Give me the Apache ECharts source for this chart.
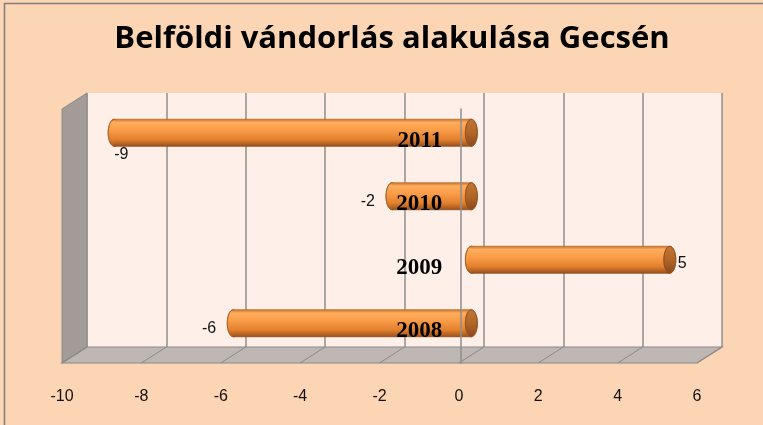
<!DOCTYPE html>
<html><head><meta charset="utf-8">
<script src="https://cdn.jsdelivr.net/npm/echarts@6/dist/echarts.min.js"></script>
<style>html,body{margin:0;padding:0;background:#FCD5B5;overflow:hidden}#c{width:763px;height:425px}</style>
</head><body><div id="c"></div>
<script>
// ---- data ----
const titleText = 'Belföldi vándorlás alakulása Gecsén';
const categories = ['2008', '2009', '2010', '2011'];
const values = [-6, 5, -2, -9];
const xMin = -10, xMax = 6, xInterval = 2;
const xTicks = [-10, -8, -6, -4, -2, 0, 2, 4, 6];

// ---- layout (3D-ish: back wall, bar plane, front plane) ----
const G0 = { left: 87, top: 93, width: 635, height: 254 };   // back wall
const G1 = { left: 74.5, top: 101, width: 635, height: 254 }; // bars
const G2 = { left: 62, top: 109, width: 635, height: 254 };   // front

const chart = echarts.init(document.getElementById('c'), null, { renderer: 'canvas' });

const bodyStops = [
  { offset: 0, color: '#C9782F' },
  { offset: 0.12, color: '#FFAD5E' },
  { offset: 0.4, color: '#FA9D48' },
  { offset: 0.75, color: '#E2802D' },
  { offset: 1, color: '#9A5120' }
];
const capStops = [
  { offset: 0, color: '#C47634' },
  { offset: 0.5, color: '#B06628' },
  { offset: 1, color: '#8A491B' }
];

function renderBar(params, api) {
  const v = api.value(0), c = api.value(1);
  const p0 = api.coord([0, c]);
  const p1 = api.coord([v, c]);
  const band = api.size([0, 1])[1];
  const h = band * 0.425;
  const yc = p0[1];
  const y0 = yc - h / 2;
  const xl = Math.min(p0[0], p1[0]);
  const xr = Math.max(p0[0], p1[0]);
  const rx = 6;
  const bodyGrad = new echarts.graphic.LinearGradient(0, 0, 0, 1, bodyStops);
  const capGrad = new echarts.graphic.LinearGradient(0, 0, 0, 1, capStops);
  const children = [
    { type: 'ellipse', shape: { cx: xl, cy: yc, rx: rx, ry: h / 2 }, style: { fill: bodyGrad, stroke: '#A85C22', lineWidth: 0.8 } },
    { type: 'rect', shape: { x: xl, y: y0, width: xr - xl, height: h }, style: { fill: bodyGrad } },
    { type: 'line', shape: { x1: xl, y1: y0, x2: xr, y2: y0 }, style: { stroke: '#B8692A', lineWidth: 0.8 } },
    { type: 'line', shape: { x1: xl, y1: y0 + h, x2: xr, y2: y0 + h }, style: { stroke: '#8A4A1C', lineWidth: 0.8 } },
    { type: 'ellipse', shape: { cx: xr, cy: yc, rx: rx, ry: h / 2 }, style: { fill: capGrad, stroke: '#95501E', lineWidth: 0.8 } }
  ];
  // value label
  let lx, ly, align, va;
  if (v < 0 && v <= xMin + 1) { lx = p1[0]; ly = y0 + h; align = 'left'; va = 'top'; }
  else if (v < 0) { lx = p1[0] - 17; ly = yc + 5; align = 'right'; va = 'middle'; }
  else { lx = p1[0] + 8; ly = yc + 4; align = 'left'; va = 'middle'; }
  children.push({ type: 'text', style: { text: String(v), x: lx, y: ly, align: align, verticalAlign: va, fill: '#111', font: '16px "Liberation Sans", Arial, sans-serif' } });
  return { type: 'group', children: children };
}

const axisBase = { type: 'value', min: xMin, max: xMax, interval: xInterval };
const catAxisFront = { gridIndex: 2, type: 'category', data: categories, z: 10,
  axisLine: { show: true, onZero: false, lineStyle: { color: '#8E8E8E', width: 1.5 } },
  axisTick: { show: false }, splitLine: { show: false },
  axisLabel: { margin: 19, fontSize: 23, fontWeight: 'bold', color: '#000', padding: [4, 0, 0, 0],
    fontFamily: '"Liberation Serif", "Times New Roman", serif' } };

chart.setOption({
  animation: false,
  backgroundColor: '#FCD5B5',
  title: {
    text: titleText, left: 387, top: 19, textAlign: 'center',
    textStyle: { fontFamily: '"Open Sans", "Liberation Sans", Arial, sans-serif', fontWeight: 'bold', fontSize: 31, color: '#000' }
  },
  grid: [
    Object.assign({ show: true, backgroundColor: '#FEF0E8', borderWidth: 0 }, G0),
    Object.assign({}, G1),
    Object.assign({}, G2)
  ],
  xAxis: [
    Object.assign({ gridIndex: 0, axisLabel: { show: false }, axisLine: { show: false }, axisTick: { show: false },
      splitLine: { show: true, lineStyle: { color: '#8E8E8E', width: 1.5 } } }, axisBase),
    Object.assign({ gridIndex: 1, show: false, splitLine: { show: false } }, axisBase),
    Object.assign({ gridIndex: 2, axisLine: { show: false }, axisTick: { show: false }, splitLine: { show: false },
      axisLabel: { margin: 26, fontSize: 16, color: '#111', fontFamily: '"Liberation Sans", Arial, sans-serif',
        formatter: function (val) { return xTicks.indexOf(val) >= 0 ? String(val) : ''; } } }, axisBase)
  ],
  yAxis: [
    { gridIndex: 0, type: 'category', data: categories, show: false },
    { gridIndex: 1, type: 'category', data: categories, show: false },
    catAxisFront
  ],
  series: [{
    type: 'custom', xAxisIndex: 1, yAxisIndex: 1, z: 5,
    data: values.map(function (v, i) { return [v, i]; }),
    encode: { x: 0, y: 1 },
    renderItem: renderBar
  }]
});

// place the front category axis at x = 0 of the front value axis
const zeroX = chart.convertToPixel({ xAxisIndex: 2 }, 0);
chart.setOption({ yAxis: [{}, {}, { offset: -(zeroX - G2.left) }] });

// ---- walls & floor derived from the axes ----
const g = [];
g.push({ type: 'rect', z: -10, shape: { x: 4.5, y: 3.5, width: 900, height: 600 }, style: { fill: 'none', stroke: '#7F7F7F', lineWidth: 1.5 } });
const backL = chart.convertToPixel({ xAxisIndex: 0 }, xMin), backR = chart.convertToPixel({ xAxisIndex: 0 }, xMax);
const frontL = chart.convertToPixel({ xAxisIndex: 2 }, xMin), frontR = chart.convertToPixel({ xAxisIndex: 2 }, xMax);
const backTop = G0.top, backBot = G0.top + G0.height, frontTop = G2.top, frontBot = G2.top + G2.height;
g.push({ type: 'polygon', z: 1, shape: { points: [[backL, backTop], [backL, backBot], [frontL, frontBot], [frontL, frontTop]] },
  style: { fill: '#A39B97', stroke: '#8A8A8A', lineWidth: 1 } });
g.push({ type: 'polygon', z: 1, shape: { points: [[backL, backBot], [backR, backBot], [frontR, frontBot], [frontL, frontBot]] },
  style: { fill: '#BFB7B3', stroke: '#8A8A8A', lineWidth: 1.2 } });
xTicks.forEach(function (t) {
  const bx = chart.convertToPixel({ xAxisIndex: 0 }, t), fx = chart.convertToPixel({ xAxisIndex: 2 }, t);
  g.push({ type: 'line', z: 1, shape: { x1: bx, y1: backBot, x2: fx, y2: frontBot }, style: { stroke: '#8A8A8A', lineWidth: 1 } });
});
chart.setOption({ graphic: g });
</script>
</body></html>
